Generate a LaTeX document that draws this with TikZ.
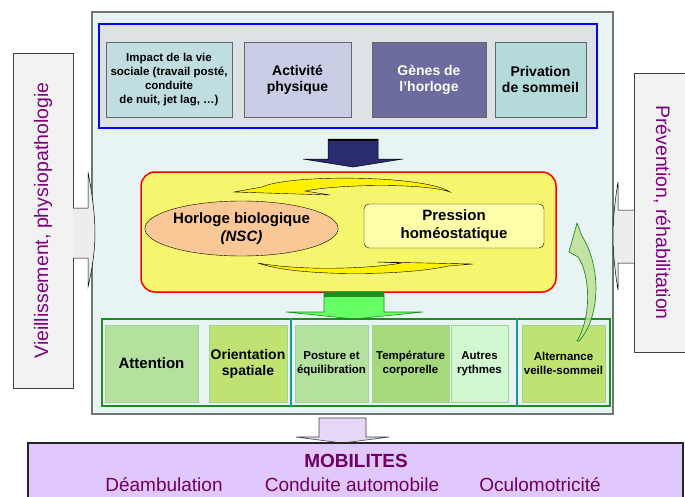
\documentclass[tikz,border=0pt]{standalone}
\usepackage{fontspec}
\setmainfont{Liberation Sans}
\usetikzlibrary{shapes, calc}

\definecolor{fondcadre}{HTML}{E8F4F4}
\definecolor{fondbleu}{HTML}{DCE2E6}
\definecolor{impactc}{HTML}{C0DEE0}
\definecolor{activc}{HTML}{C8CCE4}
\definecolor{genesc}{HTML}{6C6C9E}
\definecolor{privc}{HTML}{B4DADA}
\definecolor{marine}{HTML}{2B2B70}
\definecolor{jauner}{HTML}{F5F56E}
\definecolor{peche}{HTML}{FAC896}
\definecolor{jaunep}{HTML}{FFFFAA}
\definecolor{vertvif}{HTML}{66FF66}
\definecolor{vertfonce}{HTML}{1E8C1E}
\definecolor{sarcelle}{HTML}{109A9A}
\definecolor{vertclair}{HTML}{B4E29E}
\definecolor{vertjaune}{HTML}{C0E272}
\definecolor{vertmoyen}{HTML}{A6D87C}
\definecolor{vertpale}{HTML}{D2F8D2}
\definecolor{bordvert}{HTML}{9ED88E}
\definecolor{flechevert}{HTML}{C0E098}
\definecolor{mauve}{HTML}{E8D8F8}
\definecolor{lilas}{HTML}{E0C8FC}
\definecolor{prune}{HTML}{6E0060}
\definecolor{violet}{HTML}{7F007F}
\definecolor{grisfond}{HTML}{F2F2F2}

\tikzset{
	boite/.style={draw, rectangle, inner sep=1pt, align=center,
		font=\bfseries\fontsize{14}{16}\selectfont},
	petit/.style={font=\bfseries\fontsize{11.5}{14}\selectfont},
	haut/.style={boite, draw=black!60, minimum height=75pt},
	bas/.style={boite, draw=bordvert, minimum height=77pt},
	cote/.style={draw=black!75, fill=grisfond, text=violet, inner sep=0pt,
		font=\fontsize{19.5}{22}\selectfont},
	bloc/.style={draw=black, line width=0.5pt},
	croissant/.style={fill=yellow, draw=black, line width=0.4pt}
}

\begin{document}
\begin{tikzpicture}[x=1pt, y=-1pt]
	\useasboundingbox (0,0) rectangle (685,496);
	\clip (0,0) rectangle (685,496);
	\fill[white] (0,0) rectangle (685,496);

	\node[draw=black!55, line width=1.5pt, fill=fondcadre, minimum width=521pt,
		minimum height=402pt] (cadre) at (352.5,213) {};

	\node[draw=blue, line width=2pt, fill=fondbleu, minimum width=498pt,
		minimum height=104pt] (facteurs) at (348,76) {};
	\node[haut, petit, fill=impactc, minimum width=126pt] (impact) at (169,79.5)
		{Impact de la vie\\sociale (travail posté,\\conduite\\de nuit,\ jet lag, …)};
	\node[haut, fill=activc, minimum width=107pt] (activite) at (297.5,79.5)
		{Activité\\physique};
	\node[haut, fill=genesc, text=white, minimum width=114pt] (genes) at (429,79.5)
		{Gènes de\\l’horloge};
	\node[haut, fill=privc, minimum width=91pt] (privation) at (540.5,79.5)
		{Privation\\de sommeil};

	\fill[marine, bloc] (328,139) -- (378,139) -- (378,159) -- (403,159) -- (353,167)
		-- (303,159) -- (328,159) -- cycle;
	\draw[black, line width=2pt] (328,140) -- (378,140);

	\node[draw=red, line width=1.5pt, fill=jauner, rounded corners=14pt,
		minimum width=415pt, minimum height=120pt] (regulation) at (348.5,232) {};
	\node[boite, ellipse, fill=peche, inner sep=0pt, minimum width=193pt,
		minimum height=55pt, font=\bfseries\fontsize{15}{18}\selectfont] (horloge)
		at (241.5,228.5) {Horloge biologique\\\textit{(NSC)}};
	\node[boite, fill=jaunep, rounded corners=5pt, minimum width=180pt,
		minimum height=44pt, font=\bfseries\fontsize{15}{18}\selectfont] (pression)
		at (454,226) {Pression\\homéostatique};

	\path[croissant] (450,192) .. controls (425,175) and (290,174) .. (262,187)
		-- (234,192) -- (330,195) -- (305,191) .. controls (340,184) and (425,183)
		.. (450,192) -- cycle;
	\path[croissant] (258,263) .. controls (295,277) and (405,276) .. (448,266)
		-- (473,264) -- (377,262) -- (402,263) .. controls (360,270) and (295,270)
		.. (258,263) -- cycle;

	\fill[vertvif, draw=vertfonce, line width=0.6pt] (324,292) -- (384,292) -- (384,312)
		-- (423,312) -- (354,319) -- (286,312) -- (324,312) -- cycle;
	\fill[vertfonce] (324,292) rectangle (384,297);

	\node[draw=vertfonce, line width=2pt, minimum width=508pt, minimum height=87pt]
		(resultats) at (356,362.5) {};
	\node[bas, fill=vertclair, font=\bfseries\fontsize{15}{18}\selectfont,
		minimum width=93pt] (attention) at (151.5,363.5) {Attention};
	\node[bas, fill=vertjaune, minimum width=78pt] (orientation) at (248,363.5)
		{Orientation\\spatiale};
	\node[bas, petit, fill=vertclair, minimum width=73pt] (posture) at (331.5,363.5)
		{Posture et\\équilibration};
	\node[bas, petit, fill=vertmoyen, minimum width=77pt] (temperature) at (410.5,363.5)
		{Température\\corporelle};
	\node[bas, petit, fill=vertpale, minimum width=57pt] (autres) at (479.5,363.5)
		{Autres\\rythmes};
	\node[bas, petit, fill=vertjaune, minimum width=83pt] (alternance) at (563.5,363.5)
		{Alternance\\veille-sommeil};
	\draw[sarcelle, line width=1.2pt] (291,0 |- resultats.north) -- (291,0 |- resultats.south);
	\draw[sarcelle, line width=1.2pt] (517,0 |- resultats.north) -- (517,0 |- resultats.south);

	% retour veille-sommeil
	\path[fill=flechevert, fill opacity=0.85, draw=vertfonce, line width=0.7pt]
		(579,341) .. controls (600,318) and (602,268) .. (582,236) -- (577,223)
		-- (569,252) -- (578,257) .. controls (590,274) and (592,316) .. (577,341) -- cycle;

	\node[cote, rotate=90, minimum width=335pt, minimum height=60pt] (vieillissement)
		at (43,220.5) {Vieillissement, physiopathologie};
	\path[fill=black!7, draw=black, line width=0.5pt] (73,208) -- (88,208) -- (88,172)
		.. controls (92,192) and (95,215) .. (95,233) .. controls (95,251) and (92,270)
		.. (88,287) -- (88,258) -- (73,258);

	\node[cote, rotate=-90, minimum width=279pt, minimum height=56pt] (prevention)
		at (662,212.5) {Prévention, réhabilitation};
	\path[fill=black!7, draw=black, line width=0.5pt] (634,210) -- (618,210) -- (618,182)
		.. controls (615,200) and (613,220) .. (613,236) .. controls (613,252) and (615,272)
		.. (618,290) -- (618,263) -- (634,263);

	\path[fill=mauve, draw=black!75, line width=0.6pt] (319,418) -- (366,418) -- (366,437)
		-- (389,437) -- (342.5,443) -- (296,437) -- (319,437) -- cycle;

	\node[draw=black!85, line width=1.5pt, fill=lilas, minimum width=655pt,
		minimum height=60pt] (mobilites) at (355.5,473) {};
	\node[text=prune, font=\bfseries\fontsize{19}{22}\selectfont] (titre)
		at (356,461) {MOBILITES};
	\node[text=prune, font=\fontsize{19}{22}\selectfont] (deambulation)
		at (164,485) {Déambulation};
	\node[text=prune, font=\fontsize{19}{22}\selectfont] (conduite)
		at (352,485) {Conduite automobile};
	\node[text=prune, font=\fontsize{19}{22}\selectfont] (oculo)
		at (540,485) {Oculomotricité};
\end{tikzpicture}
\end{document}
